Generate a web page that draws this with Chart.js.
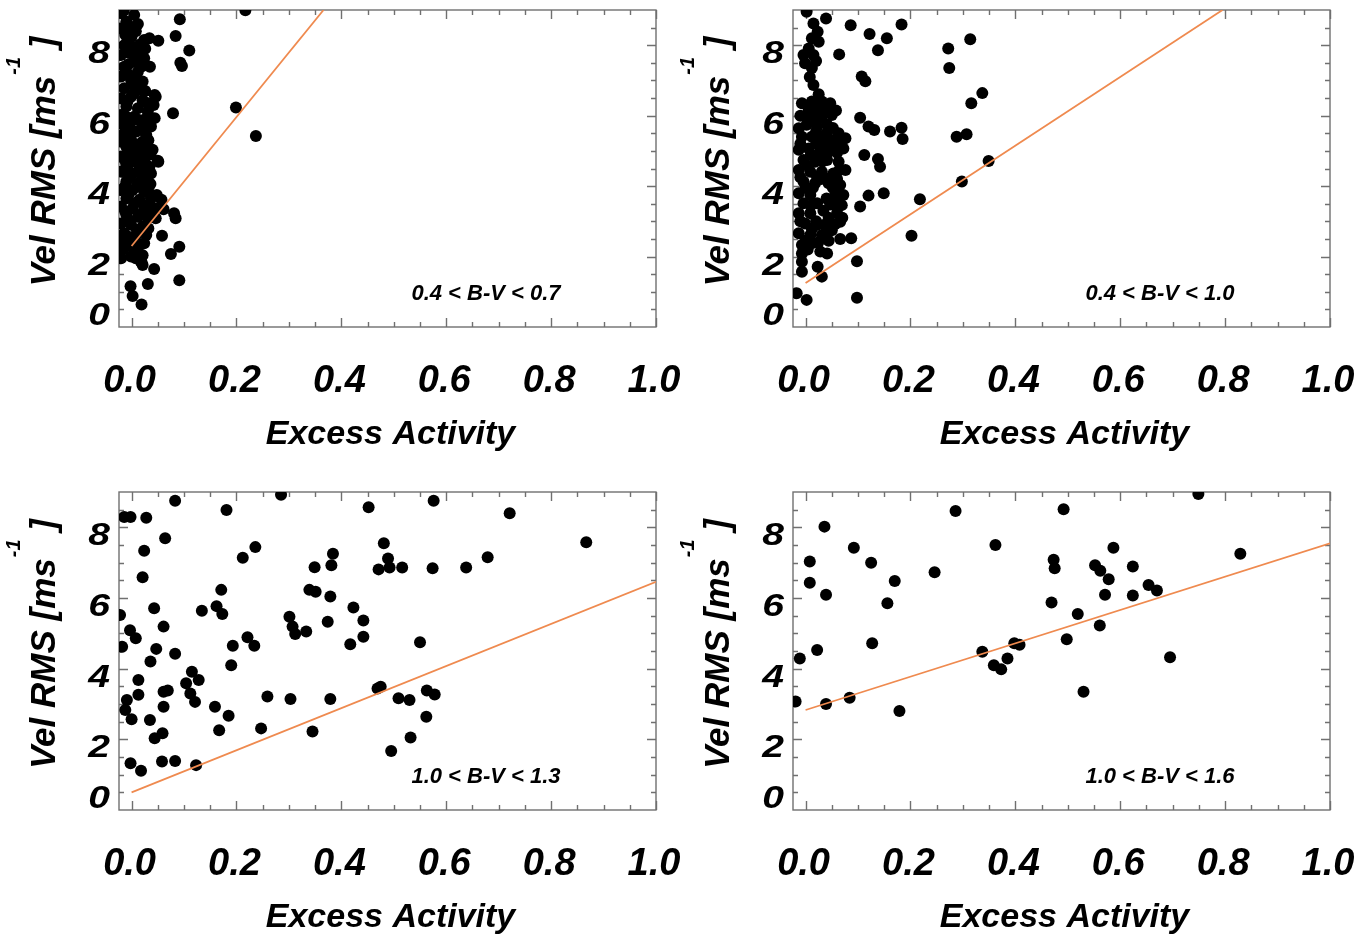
<!DOCTYPE html>
<html>
<head>
<meta charset="utf-8">
<title>Vel RMS vs Excess Activity</title>
<script src="https://cdn.jsdelivr.net/npm/chart.js@4.4.1/dist/chart.umd.min.js"></script>
<style>
  html, body { margin: 0; padding: 0; background: #fff; overflow: hidden; }
  #page { position: relative; width: 1359px; height: 934px; }
  canvas { position: absolute; }
</style>
</head>
<body>
<div id="page">
  <canvas id="panel1" width="680" height="467" style="left:0;top:0"></canvas>
  <canvas id="panel2" width="679" height="467" style="left:680px;top:0"></canvas>
  <canvas id="panel3" width="680" height="467" style="left:0;top:467px"></canvas>
  <canvas id="panel4" width="679" height="467" style="left:680px;top:467px"></canvas>
</div>
<script>
// tick labels and panel captions
const xTicks = [0, 0.2, 0.4, 0.6, 0.8, 1.0];
const yTicks = [0, 2, 4, 6, 8];
const colourRanges = ["0.4 < B-V < 0.7", "0.4 < B-V < 1.0", "1.0 < B-V < 1.3", "1.0 < B-V < 1.6"];
const xTitle = "Excess Activity";

// [excess activity, velocity rms]
const panel1Stars = [
  [0.217, 8.99], [0.092, 8.74], [0.084, 8.26], [0.110, 7.85], [0.093, 7.50], [0.096, 7.41], [0.051, 8.13],
  [0.199, 6.23], [0.237, 5.42], [0.079, 6.07], [0.046, 6.54], [0.040, 5.03], [0.051, 4.69], [0.061, 3.34],
  [0.081, 3.23], [0.084, 3.09], [0.058, 2.59], [0.091, 2.28], [0.075, 2.07], [0.043, 1.65], [0.091, 1.33],
  [0.031, 1.22], [-0.002, 1.16], [0.002, 0.88], [0.019, 0.64], [0.019, 1.84], [0.008, 1.95], [0.046, 3.09],
  [0.048, 3.75], [0.057, 3.61], [0.034, 8.20], [0.035, 7.39], [0.044, 6.59], [0.042, 6.30], [0.044, 5.93],
  [0.050, 4.72], [0.021, 1.76],
  [-0.020, 8.91], [0.005, 8.86], [-0.010, 8.67], [-0.015, 8.98], [-0.020, 8.48], [0.000, 8.24], [0.024, 8.15],
  [-0.014, 8.00], [0.002, 7.96], [0.018, 7.82], [-0.020, 7.72], [0.005, 7.53], [0.012, 7.25], [-0.014, 7.39],
  [0.024, 7.63], [-0.020, 7.11], [-0.001, 7.01], [0.021, 6.97], [-0.014, 6.78], [0.012, 6.73], [0.004, 6.88],
  [-0.020, 6.49], [-0.001, 6.54], [0.021, 6.44], [-0.010, 6.26], [0.012, 6.21], [0.031, 6.11], [-0.020, 6.02],
  [0.005, 5.97], [-0.020, 5.78], [-0.001, 5.83], [0.021, 5.74], [0.037, 5.69], [-0.014, 5.50], [0.009, 5.55],
  [0.028, 5.45], [-0.020, 5.26], [-0.001, 5.31], [0.021, 5.26], [-0.010, 5.12], [0.012, 5.07], [0.031, 5.03],
  [-0.020, 4.84], [0.002, 4.88], [0.024, 4.79], [-0.010, 4.60], [0.015, 4.60], [0.034, 4.55], [-0.020, 4.41],
  [0.002, 4.36], [0.024, 4.32], [0.037, 4.36], [-0.010, 4.13], [0.012, 4.08], [0.031, 4.13], [-0.020, 3.89],
  [0.002, 3.89], [0.024, 3.84], [-0.010, 3.65], [0.015, 3.61], [0.037, 3.65], [-0.020, 3.42], [0.002, 3.37],
  [0.024, 3.46], [0.044, 3.37], [-0.010, 3.18], [0.012, 3.13], [0.031, 3.09], [-0.020, 2.94], [-0.001, 2.90],
  [0.021, 2.85], [-0.014, 2.66], [0.009, 2.61], [0.028, 2.61], [-0.020, 2.42], [0.002, 2.47], [0.024, 2.38],
  [-0.017, 2.19], [0.005, 2.14], [0.021, 2.04], [-0.020, 1.95], [-0.001, 2.00], [0.018, 1.85],
  [-0.008, 5.95], [0.014, 5.88], [-0.006, 5.64], [0.018, 5.60], [-0.008, 5.40], [0.010, 5.18], [-0.004, 4.98],
  [0.016, 4.94], [-0.012, 4.72], [0.006, 4.70], [0.026, 4.64], [-0.008, 4.50], [0.014, 4.46], [-0.004, 4.24],
  [0.020, 4.20], [-0.012, 4.00], [0.010, 3.98], [0.030, 3.96], [-0.006, 3.76], [0.006, 3.52], [-0.012, 3.28],
  [0.022, 3.26], [-0.006, 3.02], [0.010, 2.76], [-0.006, 2.56], [-0.006, 8.56], [0.012, 8.60], [-0.008, 8.12],
  [0.010, 7.70], [-0.008, 7.20], [0.008, 7.08],
  [0.008, 8.40], [-0.012, 8.30], [0.016, 8.02], [-0.004, 7.78], [0.020, 7.40], [-0.006, 7.46], [0.026, 7.90],
  [0.004, 6.62], [0.026, 6.70], [-0.008, 6.40], [0.030, 6.36], [0.026, 5.90], [0.032, 5.30], [0.036, 4.90],
  [0.036, 4.06], [0.034, 3.80], [0.028, 3.40], [0.036, 3.20], [0.014, 2.30], [-0.010, 2.30], [0.032, 2.80]
];
const panel1Fit = [[0, 2.3], [0.366, 9.0]];

const panel2Stars = [
  [0.002, 8.95], [0.039, 8.76], [0.086, 8.57], [0.122, 8.32], [0.155, 8.20], [0.183, 8.59], [0.138, 7.86],
  [0.064, 7.74], [0.107, 7.11], [0.114, 6.98], [0.104, 5.94], [0.120, 5.69], [0.131, 5.59], [0.161, 5.55],
  [0.183, 5.66], [0.185, 5.34], [0.112, 4.88], [0.138, 4.77], [0.142, 4.55], [0.149, 3.80], [0.120, 3.73],
  [0.104, 3.42], [0.087, 2.52], [0.066, 2.50], [0.098, 1.87], [0.098, 0.83], [0.002, 0.77], [-0.017, 0.96],
  [0.031, 1.43], [0.023, 1.71], [-0.007, 1.57], [0.202, 2.59], [0.218, 3.63], [0.272, 7.91], [0.274, 7.35],
  [0.314, 8.17], [0.337, 6.64], [0.316, 6.35], [0.288, 5.40], [0.307, 5.47], [0.298, 4.13], [0.349, 4.71],
  [0.015, 8.62], [0.023, 8.38], [0.012, 8.20], [0.025, 8.10], [0.006, 7.91], [-0.004, 7.72], [0.015, 7.72],
  [-0.001, 7.49], [0.012, 7.35], [0.015, 6.87], [0.025, 6.61], [-0.007, 6.35], [0.012, 6.40], [0.031, 6.40],
  [0.047, 6.35], [0.006, 6.16], [0.025, 6.10], [0.050, 6.02], [0.015, 5.93], [-0.013, 5.64], [0.002, 5.74],
  [0.022, 5.69], [0.041, 5.74], [0.063, 5.50], [0.076, 5.36], [-0.007, 5.40], [0.012, 5.40], [0.031, 5.36],
  [0.050, 5.31], [-0.013, 5.03], [0.006, 5.07], [0.028, 4.98], [0.050, 5.03], [0.072, 5.07], [-0.004, 4.74],
  [0.018, 4.69], [0.041, 4.74], [0.063, 4.69], [-0.013, 4.46], [0.009, 4.41], [0.031, 4.41], [0.053, 4.36],
  [0.076, 4.46], [-0.004, 4.13], [0.018, 4.08], [0.044, 4.08], [0.066, 4.03], [-0.013, 3.80], [0.009, 3.75],
  [0.057, 3.80], [0.072, 3.75], [-0.004, 3.51], [0.022, 3.51], [0.047, 3.48], [0.069, 3.46], [-0.013, 3.23],
  [0.009, 3.23], [0.060, 3.23], [-0.001, 2.94], [0.022, 2.90], [0.050, 2.75], [0.066, 2.99], [-0.013, 2.66],
  [0.009, 2.61], [0.031, 2.61], [-0.007, 2.33], [0.012, 2.38], [0.028, 2.14], [0.041, 2.09], [-0.007, 2.09],
  [-0.007, 1.85],
  [0.040, 5.50], [0.020, 5.20], [0.040, 4.90], [0.030, 4.20], [0.052, 3.95], [0.034, 3.30], [0.036, 2.90],
  [0.020, 3.00], [0.044, 2.45], [0.054, 3.60], [-0.010, 6.00], [-0.010, 5.20], [-0.010, 4.25], [-0.010, 3.00],
  [0.030, 5.95], [0.060, 4.20], [0.070, 3.10], [0.008, 7.10], [0.020, 7.55], [0.032, 4.70], [0.010, 4.90],
  [0.000, 3.95], [0.040, 3.65], [0.000, 2.45], [0.054, 5.15],
  [0.060, 4.95], [0.064, 4.45], [0.046, 4.22], [0.022, 4.25], [0.004, 4.58], [0.014, 3.95], [0.064, 3.75],
  [0.010, 3.45], [0.060, 3.40], [0.044, 3.10], [0.056, 2.92], [0.012, 2.78], [0.040, 2.70], [0.024, 2.40],
  [0.004, 2.20], [0.018, 4.85], [0.036, 5.15], [0.060, 5.30], [0.020, 5.55], [0.052, 5.65], [0.006, 5.90],
  [0.038, 6.20], [0.018, 6.30], [0.058, 6.15]
];
const panel2Fit = [[0, 1.25], [0.795, 9.0]];

const panel3Stars = [
  [-0.014, 8.29], [-0.002, 8.29], [0.028, 8.27], [0.083, 8.75], [0.064, 7.69], [0.024, 7.34], [0.021, 6.59],
  [0.181, 8.49], [0.285, 8.92], [0.212, 7.14], [0.236, 7.44], [0.171, 6.23], [0.162, 5.77], [0.173, 5.55],
  [0.134, 5.64], [0.043, 5.71], [-0.003, 5.09], [0.008, 4.86], [-0.018, 4.62], [0.061, 5.19], [0.047, 4.56],
  [0.083, 4.42], [0.036, 4.20], [0.193, 4.65], [0.190, 4.10], [0.221, 4.89], [0.234, 4.65], [0.013, 3.68],
  [0.013, 3.26], [-0.009, 3.11], [-0.012, 2.83], [0.000, 2.57], [0.035, 2.55], [0.061, 3.35], [0.069, 3.38],
  [0.061, 2.92], [0.104, 3.59], [0.115, 3.91], [0.128, 3.68], [0.112, 3.30], [0.121, 3.06], [0.159, 2.92],
  [0.185, 2.67], [0.167, 2.26], [0.044, 2.03], [0.059, 2.17], [-0.002, 1.32], [0.018, 1.11], [0.058, 1.37],
  [0.083, 1.39], [0.123, 1.27], [0.247, 2.31], [0.259, 3.21], [0.303, 3.14], [0.345, 2.22], [0.379, 3.14],
  [0.374, 5.33], [0.333, 5.05], [0.301, 5.47], [0.307, 5.19], [0.312, 4.98], [0.339, 6.23], [0.351, 6.18],
  [0.349, 6.87], [0.379, 6.04], [0.384, 7.25], [0.381, 6.93], [-0.022, 5.52], [0.452, 8.57], [0.576, 8.75],
  [0.721, 8.40], [0.867, 7.58], [0.481, 7.55], [0.489, 7.12], [0.471, 6.81], [0.492, 6.86], [0.516, 6.86],
  [0.574, 6.84], [0.638, 6.86], [0.679, 7.15], [0.423, 5.73], [0.442, 5.36], [0.442, 4.90], [0.417, 4.69],
  [0.550, 4.75], [0.469, 3.44], [0.475, 3.49], [0.509, 3.16], [0.530, 3.11], [0.563, 3.38], [0.578, 3.27],
  [0.562, 2.64], [0.532, 2.05], [0.495, 1.67]
];
const panel3Fit = [[0, 0.5], [1.0, 6.46]];

const panel4Stars = [
  [-0.019, 3.07], [-0.011, 4.29], [0.008, 7.03], [0.008, 6.43], [0.022, 4.53], [0.036, 8.02], [0.039, 6.09],
  [0.039, 3.00], [0.084, 3.18], [0.092, 7.42], [0.125, 7.00], [0.127, 4.72], [0.156, 5.85], [0.170, 6.48],
  [0.179, 2.80], [0.246, 6.73], [0.286, 8.46], [0.337, 4.48], [0.362, 7.50], [0.359, 4.10], [0.373, 3.98],
  [0.385, 4.29], [0.398, 4.72], [0.408, 4.68], [0.749, 8.94], [0.492, 8.51], [0.587, 7.42], [0.473, 7.08],
  [0.475, 6.84], [0.552, 6.93], [0.562, 6.77], [0.578, 6.53], [0.624, 6.89], [0.829, 7.25], [0.654, 6.37],
  [0.670, 6.21], [0.571, 6.09], [0.624, 6.07], [0.469, 5.87], [0.519, 5.55], [0.561, 5.22], [0.498, 4.83],
  [0.695, 4.32], [0.530, 3.35]
];
const panel4Fit = [[0, 2.83], [1.0, 7.55]];

const FONT = '"Liberation Sans", Arial, Helvetica, sans-serif';
const FIT_COLOUR = "#ef8a4f";

// IDL-style frame: box, inward ticks on all sides, labels drawn by hand
const idlAxes = {
  id: "idlAxes",
  beforeDatasetsDraw(chart) {
    const { ctx, chartArea: a, scales: { x, y } } = chart;
    ctx.save();
    ctx.strokeStyle = "#707070";
    ctx.lineWidth = 1.4;
    ctx.beginPath();
    for (let i = 0; i <= 20; i++) {
      const px = Math.round(x.getPixelForValue(i * 0.05)) + 0.5;
      const len = i % 4 === 0 ? 9 : 5;
      ctx.moveTo(px, a.bottom); ctx.lineTo(px, a.bottom - len);
      ctx.moveTo(px, a.top); ctx.lineTo(px, a.top + len);
    }
    for (let i = 1; i < 18; i++) {
      const py = Math.round(y.getPixelForValue(i * 0.5)) + 0.5;
      const len = i % 4 === 0 ? 9 : 5;
      ctx.moveTo(a.left, py); ctx.lineTo(a.left + len, py);
      ctx.moveTo(a.right, py); ctx.lineTo(a.right - len, py);
    }
    ctx.stroke();
    ctx.strokeRect(a.left, a.top, a.width, a.height);
    ctx.restore();
  },
  afterDraw(chart, args, opts) {
    const { ctx, chartArea: a, scales: { x, y } } = chart;
    ctx.save();
    ctx.fillStyle = "#000";

    // x tick labels
    ctx.font = "italic bold 38px " + FONT;
    ctx.textAlign = "center";
    ctx.textBaseline = "alphabetic";
    xTicks.forEach((v) => {
      ctx.fillText(v.toFixed(1), x.getPixelForValue(v) - 2, a.bottom + 65);
    });

    // y tick labels, drawn a little wide like the original
    ctx.font = "italic bold 32px " + FONT;
    ctx.textAlign = "right";
    yTicks.forEach((v) => {
      const centre = Math.min(y.getPixelForValue(v) + 7, a.bottom - 13);
      ctx.save();
      ctx.translate(a.left - 9, centre + 11);
      ctx.scale(1.22, 1);
      ctx.fillText(String(v), 0, 0);
      ctx.restore();
    });

    // x title
    ctx.font = "italic bold 34px " + FONT;
    ctx.textAlign = "center";
    ctx.fillText(xTitle, (a.left + a.right) / 2 + 3, a.bottom + 117);

    // y title with superscript, rotated
    ctx.save();
    ctx.translate(a.left - 64, (a.top + a.bottom) / 2 - 7);
    ctx.rotate(-Math.PI / 2);
    ctx.textAlign = "left";
    const main = "Vel RMS [ms";
    const sup = "-1";
    const tail = " ]";
    const big = "italic bold 35px " + FONT;
    const small = "italic bold 20px " + FONT;
    ctx.font = big;
    const wMain = ctx.measureText(main).width;
    const wTail = ctx.measureText(tail).width;
    ctx.font = small;
    const wSup = ctx.measureText(sup).width;
    let cx = -(wMain + wSup + wTail) / 2;
    ctx.font = big;
    ctx.fillText(main, cx, 0);
    cx += wMain;
    ctx.font = small;
    ctx.fillText(sup, cx + 1, -35);
    cx += wSup;
    ctx.font = big;
    ctx.fillText(tail, cx, 0);
    ctx.restore();

    // colour range caption
    ctx.font = "italic bold 22px " + FONT;
    ctx.textAlign = "center";
    ctx.fillText(opts.caption, a.right - 170, a.bottom - 27);
    ctx.restore();
  }
};

function buildPanel(canvasId, stars, fit, caption, padding) {
  const toXY = (p) => ({ x: p[0], y: p[1] });
  return new Chart(document.getElementById(canvasId), {
    type: "scatter",
    data: {
      datasets: [
        {
          type: "line",
          data: fit.map(toXY),
          borderColor: FIT_COLOUR,
          borderWidth: 1.8,
          pointRadius: 0,
          fill: false,
          clip: 0,
        },
        {
          data: stars.map(toXY),
          backgroundColor: "#000",
          borderWidth: 0,
          pointRadius: 6,
          pointHoverRadius: 6,
          clip: 0,
        },
      ],
    },
    options: {
      responsive: false,
      animation: false,
      devicePixelRatio: 1,
      layout: { padding },
      events: [],
      plugins: {
        legend: { display: false },
        tooltip: { enabled: false },
        idlAxes: { caption },
      },
      scales: {
        x: { type: "linear", min: -0.024, max: 1.0, display: false },
        y: { type: "linear", min: 0, max: 9, display: false },
      },
    },
    plugins: [idlAxes],
  });
}

buildPanel("panel1", panel1Stars, panel1Fit, colourRanges[0], { left: 119, top: 10, right: 24, bottom: 140 });
buildPanel("panel2", panel2Stars, panel2Fit, colourRanges[1], { left: 113, top: 10, right: 29, bottom: 140 });
buildPanel("panel3", panel3Stars, panel3Fit, colourRanges[2], { left: 119, top: 25, right: 24, bottom: 124 });
buildPanel("panel4", panel4Stars, panel4Fit, colourRanges[3], { left: 113, top: 25, right: 29, bottom: 124 });
</script>
</body>
</html>
